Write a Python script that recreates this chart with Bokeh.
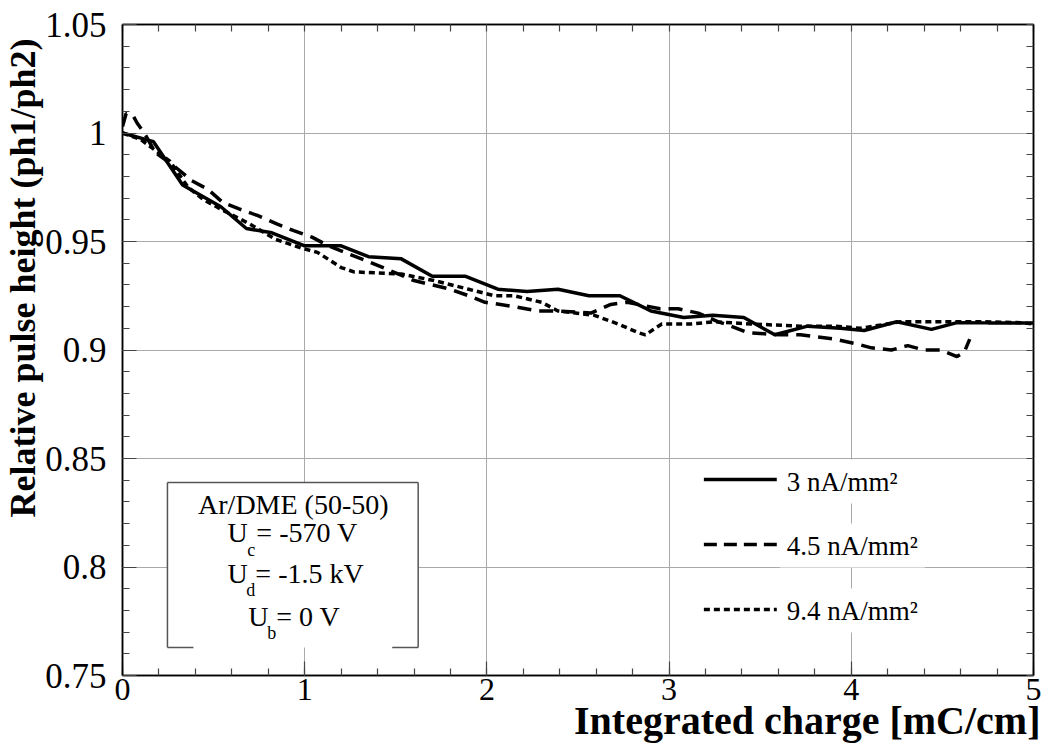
import math
from bokeh.plotting import figure
from bokeh.models import (Label, LinearAxis, SingleIntervalTicker, FixedTicker,
                          CustomJSTickFormatter, Range1d, Title)
from bokeh.embed import file_html
from bokeh.resources import INLINE

# ---------------- data ----------------
solid_x = [0, 0.17, 0.33, 0.54, 0.68, 0.82, 1.0, 1.2, 1.35, 1.53, 1.70, 1.88, 2.06, 2.22, 2.39,
           2.56, 2.73, 2.90, 3.08, 3.24, 3.41, 3.58, 3.76, 3.94, 4.07, 4.25, 4.44, 4.58, 4.75, 5.0]
solid_y = [1.0, 0.996, 0.976, 0.966, 0.956, 0.954, 0.948, 0.948, 0.943, 0.942, 0.934, 0.934, 0.928,
           0.927, 0.928, 0.925, 0.925, 0.918, 0.915, 0.916, 0.915, 0.907, 0.911, 0.910, 0.909,
           0.913, 0.9095, 0.9126, 0.9125, 0.9125]

dashed_x = [0, 0.02, 0.06, 0.08, 0.12, 0.18, 0.28, 0.38, 0.47, 0.55, 0.64, 0.74, 0.85, 0.94, 1.04,
            1.13, 1.40, 1.60, 1.70, 1.80, 1.90, 1.99, 2.15, 2.28, 2.39, 2.57, 2.68, 2.77, 2.95,
            3.05, 3.16, 3.27, 3.34, 3.43, 3.61, 3.72, 3.91, 4.02, 4.11, 4.22, 4.31, 4.40, 4.49,
            4.58, 4.62, 4.65]
dashed_y = [1.003, 1.009, 1.0077, 1.0046, 1.0, 0.991, 0.985, 0.978, 0.974, 0.968, 0.965, 0.962,
            0.958, 0.955, 0.952, 0.948, 0.939, 0.932, 0.930, 0.928, 0.925, 0.922, 0.920, 0.918,
            0.918, 0.917, 0.921, 0.922, 0.919, 0.919, 0.917, 0.913, 0.911, 0.908, 0.907, 0.907,
            0.905, 0.903, 0.901, 0.900, 0.902, 0.900, 0.900, 0.897, 0.899, 0.905]

dotted_x = [0, 0.10, 0.18, 0.26, 0.31, 0.36, 0.45, 0.56, 0.70, 0.84, 0.98, 1.07, 1.20, 1.27, 1.53,
            1.71, 1.90, 2.04, 2.15, 2.30, 2.39, 2.59, 2.72, 2.83, 2.87, 2.96, 3.12, 3.25, 3.45,
            3.72, 3.91, 4.05, 4.27, 4.49, 4.73, 4.93, 5.0]
dotted_y = [1.0, 0.997, 0.992, 0.987, 0.981, 0.975, 0.969, 0.964, 0.958, 0.951, 0.947, 0.945,
            0.938, 0.936, 0.935, 0.932, 0.928, 0.925, 0.925, 0.922, 0.918, 0.916, 0.912, 0.908,
            0.907, 0.912, 0.912, 0.913, 0.912, 0.911, 0.911, 0.910, 0.913, 0.913, 0.913, 0.9126,
            0.912]

series_labels = ["3 nA/mm\u00b2", "4.5 nA/mm\u00b2", "9.4 nA/mm\u00b2"]
box_lines = ["Ar/DME (50-50)"]
u_parts = [("U", "c", "= -570 V"), ("U", "d", "= -1.5 kV"), ("U", "b", "= 0 V")]
x_title = "Integrated charge [mC/cm]"
y_title = "Relative pulse height (ph1/ph2)"

# ---------------- layout ----------------
W, H = 1046, 754
L, R, T, B = 121, 13, 24, 79
XMIN, XMAX, YMIN, YMAX = 0.0, 5.0, 0.75, 1.05
FW, FH = W - L - R, H - T - B

def px(xp):
    return XMIN + (xp - L) / FW * (XMAX - XMIN)

def py(yp):
    return YMAX - (yp - T) / FH * (YMAX - YMIN)

FONT = "Liberation Serif"

p = figure(width=W, height=H, output_backend="svg", toolbar_location=None,
           x_range=Range1d(XMIN, XMAX), y_range=Range1d(YMIN, YMAX),
           min_border_left=L, min_border_right=R, min_border_top=T, min_border_bottom=B)
p.background_fill_color = "white"
p.border_fill_color = "white"
p.outline_line_color = "black"
p.outline_line_width = 1.5

xt = SingleIntervalTicker(interval=1, num_minor_ticks=5)
yt = SingleIntervalTicker(interval=0.05, num_minor_ticks=5)
yfmt = CustomJSTickFormatter(code="return String(Math.round(tick*100)/100);")

p.xaxis.ticker = xt
p.yaxis.ticker = yt
p.yaxis.formatter = yfmt
p.xgrid.ticker = xt
p.ygrid.ticker = yt
for g in (p.xgrid, p.ygrid):
    g.grid_line_color = "#aaaaaa"
    g.grid_line_width = 1

def style_axis(ax, size="32px"):
    ax.axis_line_color = "black"
    ax.axis_line_width = 1.5
    ax.major_tick_in = 14
    ax.major_tick_out = 0
    ax.minor_tick_in = 7
    ax.minor_tick_out = 0
    ax.major_tick_line_color = "#444444"
    ax.minor_tick_line_color = "#444444"
    ax.major_tick_line_width = 1.2
    ax.minor_tick_line_width = 1.2
    ax.major_label_text_font = FONT
    ax.major_label_text_font_style = "normal"
    ax.major_label_text_color = "black"
    ax.major_label_text_font_size = size

style_axis(p.xaxis[0], "32px")
style_axis(p.yaxis[0], "35px")
p.xaxis.major_label_standoff = 3
p.yaxis.major_label_standoff = 16

# top / right axes: tick marks only (no labels)
top_minor = [XMIN + i * 0.2 for i in range(26)]
right_minor = [YMIN + i * 0.01 for i in range(31)]
top_ax = LinearAxis(ticker=FixedTicker(ticks=[], minor_ticks=top_minor))
right_ax = LinearAxis(ticker=FixedTicker(ticks=[], minor_ticks=right_minor))
for ax in (top_ax, right_ax):
    style_axis(ax)
p.add_layout(top_ax, "above")
p.add_layout(right_ax, "right")

# ---------------- curves ----------------
p.line(solid_x, solid_y, line_color="black", line_width=3.5)
p.line(dashed_x, dashed_y, line_color="black", line_width=3.5, line_dash="14 8")
p.line(dotted_x, dotted_y, line_color="black", line_width=3.5, line_dash="6 4")

# ---------------- info box ----------------
bl, br, bt, bb = px(166), px(417), py(482), py(647)
p.quad(left=[bl], right=[br], top=[bt], bottom=[bb], fill_color="white", line_color=None)
p.segment(x0=[bl, bl, br, bl, px(391)], y0=[bb, bt, bt, bb, bb],
          x1=[bl, br, br, px(192), br], y1=[bt, bt, bb, bb, bb],
          line_color="#555555", line_width=1.5)

def lab(xp, yp, text, size="28px", align="left", baseline="middle", **kw):
    p.add_layout(Label(x=px(xp), y=py(yp), text=text, text_font=FONT, text_font_size=size,
                       text_align=align, text_baseline=baseline, text_color="black", **kw))

lab(292, 504, box_lines[0], align="center")
u_pos = [(226, 246, 255, 532, 549), (226, 245, 254, 573, 589), (247, 266, 275, 616, 632)]
for (u, s, rest), (xu, xs, xr, yc, ys) in zip(u_parts, u_pos):
    lab(xu, yc, u)
    lab(xs, ys, s, size="18px")
    lab(xr, yc, rest)

# ---------------- legend ----------------
dashes = ["solid", "13 7", "6 4"]
leg_y = [479, 544, 609]
leg_text_y = [481, 545, 610]
for dash, ly, ty, txt in zip(dashes, leg_y, leg_text_y, series_labels):
    p.line([px(703), px(776)], [py(ly), py(ly)], line_color="black", line_width=3.5, line_dash=dash)
    lab(779, ty, txt, size="27px", background_fill_color="white", padding=7)

# ---------------- axis titles ----------------
xt_title = Title(text=x_title, align="right", offset=-7, text_font=FONT,
                 text_font_size="40px", text_font_style="bold", text_color="black", standoff=-14)
yt_title = Title(text=y_title, align="right", offset=14, text_font=FONT,
                 text_font_size="36px", text_font_style="bold", text_color="black", standoff=0)
p.add_layout(xt_title, "below")
p.add_layout(yt_title, "left")

open("out.html", "w").write(file_html(p, INLINE))
